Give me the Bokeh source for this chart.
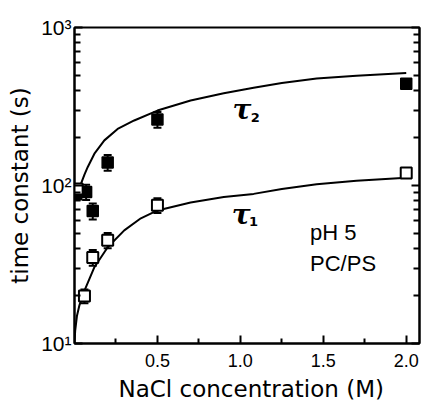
from bokeh.plotting import figure
from bokeh.models import (Range1d, FixedTicker, LogAxis, Label, Whisker, TeeHead,
                          ColumnDataSource, Title)
from bokeh.embed import file_html
from bokeh.resources import INLINE

# ---- data ----
tau2_x = [0.01, 0.07, 0.11, 0.2, 0.5, 2.0]
tau2_y = [88, 91, 69, 140, 262, 440]
tau2_err = [0, 10, 8, 16, 30, 0]

tau1_x = [0.016, 0.06, 0.11, 0.2, 0.5, 2.0]
tau1_y = [95, 20, 35, 45, 75, 120]
tau1_err = [0, 2, 4, 5, 8, 0]

tau2_curve_x = [0.015, 0.025, 0.04, 0.06, 0.08, 0.12, 0.18, 0.26, 0.36, 0.5, 0.7, 0.9, 1.08, 1.25, 1.46, 1.7, 2.0]
tau2_curve_y = [88, 94, 103, 117, 131, 159, 193, 228, 258, 298, 345, 384, 415, 445, 475, 495, 515]

tau1_curve_x = [0.0, 0.004, 0.015, 0.03, 0.06, 0.12, 0.2, 0.3, 0.4, 0.5, 0.7, 0.9, 1.08, 1.25, 1.46, 1.7, 2.0]
tau1_curve_y = [10, 12, 15, 17.5, 21.6, 30.4, 40.7, 52, 62, 69.5, 78, 84.5, 88.5, 95, 102, 107, 112]

x_major = [0.5, 1.0, 1.5, 2.0]
x_minor = [0.25, 0.75, 1.25, 1.75]
x_labels = ["0.5", "1.0", "1.5", "2.0"]
y_major = [10, 100, 1000]
y_labels = ["10\u00b9", "10\u00b2", "10\u00b3"]
y_minor = [m * d for d in (10, 100) for m in range(2, 10)]

FONT = "Liberation Sans"
TFONT = "DejaVu Sans"

p = figure(width=422, height=407, x_range=Range1d(0, 2.08), y_range=Range1d(10, 1000),
           y_axis_type="log", output_backend="svg", toolbar_location=None,
           min_border_left=74, min_border_right=3, min_border_top=27, min_border_bottom=64)
p.xgrid.visible = False
p.ygrid.visible = False
p.outline_line_color = "black"
p.outline_line_width = 2
p.background_fill_color = "white"
p.border_fill_color = "white"

# x axis
xa = p.xaxis[0]
xa.ticker = FixedTicker(ticks=x_major, minor_ticks=x_minor)
xa.major_label_overrides = {t: l for t, l in zip(x_major, x_labels)}
xa.major_tick_in = 8
xa.major_tick_out = 0
xa.minor_tick_in = 5
xa.minor_tick_out = 0
xa.major_tick_line_width = 2
xa.minor_tick_line_width = 2
xa.axis_line_width = 2
xa.major_label_text_font = FONT
xa.major_label_text_font_size = "18px"
xa.major_label_text_color = "black"
xa.major_label_standoff = 10

# x axis title as a left-aligned title below, shifted right as in the reference
p.add_layout(Title(text="NaCl concentration (M)", align="left", offset=44,
                   text_font=TFONT, text_font_size="23px", text_font_style="normal",
                   text_color="black", standoff=8), "below")

# y axis
ya = p.yaxis[0]
ya.ticker = FixedTicker(ticks=y_major, minor_ticks=y_minor)
ya.major_label_overrides = {t: l for t, l in zip(y_major, y_labels)}
ya.major_tick_in = 8
ya.major_tick_out = 0
ya.minor_tick_in = 6
ya.minor_tick_out = 0
ya.major_tick_line_width = 2
ya.minor_tick_line_width = 2
ya.axis_line_width = 2
ya.major_label_text_font = FONT
ya.major_label_text_font_size = "21px"
ya.major_label_text_color = "black"
ya.major_label_standoff = 3
ya.axis_label = "time constant (s)"
ya.axis_label_text_font = TFONT
ya.axis_label_text_font_style = "normal"
ya.axis_label_text_font_size = "23px"
ya.axis_label_text_color = "black"
ya.axis_label_standoff = 5

# right axis with inward ticks only (labels invisible)
ra = LogAxis(ticker=FixedTicker(ticks=y_major, minor_ticks=y_minor),
             major_label_text_font_size="2px", major_label_text_alpha=0,
             major_tick_in=8, major_tick_out=0,
             minor_tick_in=6, minor_tick_out=0, major_tick_line_width=2,
             minor_tick_line_width=2, axis_line_width=2, major_label_standoff=0)
p.add_layout(ra, "right")

# curves
p.line(tau2_curve_x, tau2_curve_y, line_color="black", line_width=2)
p.line(tau1_curve_x, tau1_curve_y, line_color="black", line_width=2)

# error bars
for xs, ys, es in ((tau2_x, tau2_y, tau2_err), (tau1_x, tau1_y, tau1_err)):
    bx = [x for x, e in zip(xs, es) if e > 0]
    up = [y + e for y, e in zip(ys, es) if e > 0]
    lo = [y - e for y, e in zip(ys, es) if e > 0]
    src = ColumnDataSource(dict(base=bx, upper=up, lower=lo))
    w = Whisker(source=src, base="base", upper="upper", lower="lower", line_width=2,
                line_color="black",
                upper_head=TeeHead(size=8, line_width=2, line_color="black"),
                lower_head=TeeHead(size=8, line_width=2, line_color="black"))
    p.add_layout(w)

# markers
p.scatter(tau2_x, tau2_y, marker="square", size=11, fill_color="black", line_color="black", line_width=1.5)
p.scatter(tau1_x, tau1_y, marker="square", size=11, fill_color="white", line_color="black", line_width=2)

# annotations
def lab(x, y, t, size, style="normal", font=FONT, align="left", baseline="middle"):
    p.add_layout(Label(x=x, y=y, text=t, text_font=font, text_font_size=size,
                       text_font_style=style, text_color="black", text_align=align,
                       text_baseline=baseline))

lab(1.01, 303, "\u03c4", "28px", "bold italic", "DejaVu Serif", "center")
lab(1.09, 270, "2", "13px", "bold", "DejaVu Sans", "center")
lab(1.005, 66, "\u03c4", "28px", "bold italic", "DejaVu Serif", "center")
lab(1.08, 59, "1", "13px", "bold", "DejaVu Sans", "center")

lab(1.42, 50.4, "pH 5", "22px")
lab(1.42, 32.1, "PC/PS", "22px")

open("out.html", "w").write(file_html(p, INLINE))
